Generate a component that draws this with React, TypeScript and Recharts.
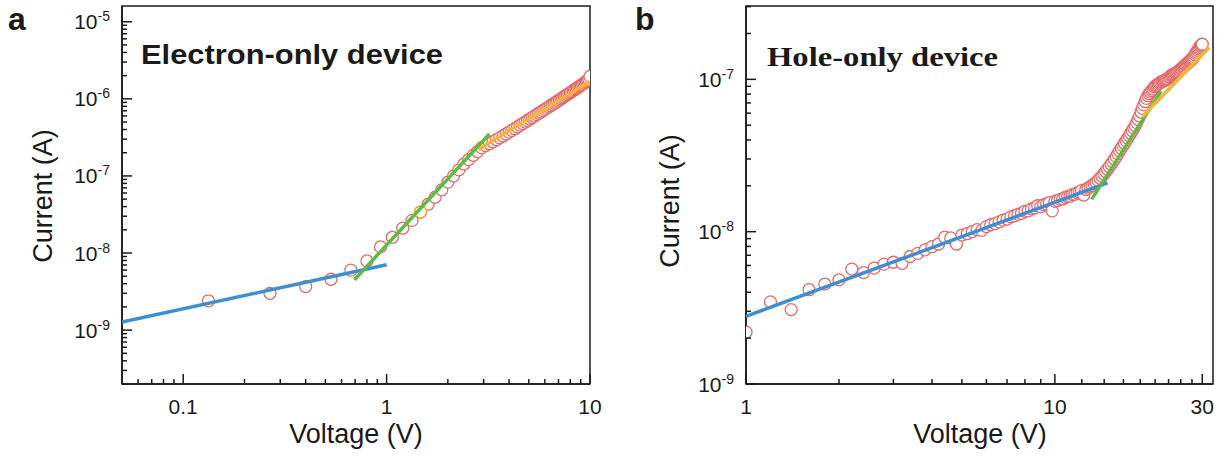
import { ScatterChart, Scatter, XAxis, YAxis, ReferenceArea } from "recharts";

const SANS = '"Liberation Sans", Arial, sans-serif';
const SERIF = '"Liberation Serif", "Times New Roman", serif';
const INK = "#1a1a1a";
const RED = "#e36a6a";
const BLUE = "#3d8fd1";
const GREEN = "#5dbb46";
const GOLD = "#f2b538";
const ORANGE = "#f0a020";

// ---- panel a: electron-only device ----
const elecV = [
  0.133, 0.267, 0.4, 0.533, 0.667, 0.8, 0.933, 1.067, 1.2, 1.333, 1.467, 1.6, 1.733, 1.867, 2.0,
  2.133, 2.267, 2.4, 2.533, 2.667, 2.8, 2.933, 3.067, 3.2, 3.333, 3.467, 3.6, 3.733, 3.867, 4.0,
  4.133, 4.267, 4.4, 4.533, 4.667, 4.8, 4.933, 5.067, 5.2, 5.333, 5.467, 5.6, 5.733, 5.867, 6.0,
  6.133, 6.267, 6.4, 6.533, 6.667, 6.8, 6.933, 7.067, 7.2, 7.333, 7.467, 7.6, 7.733, 7.867, 8.0,
  8.133, 8.267, 8.4, 8.533, 8.667, 8.8, 8.933, 9.067, 9.2, 9.333, 9.467, 9.6, 9.733, 9.867, 10.0,
];
// current in nA
const elecI = [
  2.4, 3.0, 3.67, 4.57, 6.0, 7.9, 12.0, 16.0, 21, 26.5, 34, 43, 53, 66, 83,
  100, 120, 143, 163, 185, 207, 233, 248, 262, 278, 295, 312, 330, 350, 370,
  390, 410, 432, 455, 478, 500, 524, 548, 572, 598, 624, 650, 676, 703, 730,
  758, 786, 815, 845, 875, 905, 935, 968, 1000, 1035, 1068, 1100, 1135, 1170, 1205,
  1240, 1278, 1315, 1352, 1390, 1430, 1470, 1510, 1550, 1595, 1640, 1690, 1740, 1800, 1950,
];
const elecMarkV = [1.467];
const elecMarkI = [34];
const elecBlueV = [0.05, 1.0];
const elecBlueI = [1.27e-9, 7.06e-9];
const elecGreenV = [0.695, 3.2];
const elecGreenI = [4.5e-9, 3.5e-7];
const elecGoldV = [2.83, 10];
const elecGoldI = [2.2e-7, 1.68e-6];

const elecXMajor = [0.1, 1, 10];
const elecXMinor = [0.06, 0.07, 0.08, 0.09, 0.2, 0.3, 0.4, 0.5, 0.6, 0.7, 0.8, 0.9, 2, 3, 4, 5, 6, 7, 8, 9];
const elecYMajor = [1e-9, 1e-8, 1e-7, 1e-6, 1e-5];
const elecYMinor = [
  2e-10, 3e-10, 4e-10, 5e-10, 6e-10, 7e-10, 8e-10, 9e-10,
  2e-9, 3e-9, 4e-9, 5e-9, 6e-9, 7e-9, 8e-9, 9e-9,
  2e-8, 3e-8, 4e-8, 5e-8, 6e-8, 7e-8, 8e-8, 9e-8,
  2e-7, 3e-7, 4e-7, 5e-7, 6e-7, 7e-7, 8e-7, 9e-7,
  2e-6, 3e-6, 4e-6, 5e-6, 6e-6, 7e-6, 8e-6, 9e-6,
];

// ---- panel b: hole-only device ----
const holeV = [
  1, 1.2, 1.4, 1.6, 1.8, 2, 2.2, 2.4, 2.6, 2.8, 3, 3.2, 3.4, 3.6, 3.8,
  4, 4.2, 4.4, 4.6, 4.8, 5, 5.2, 5.4, 5.6, 5.8, 6, 6.2, 6.4, 6.6, 6.8,
  7, 7.2, 7.4, 7.6, 7.8, 8, 8.2, 8.4, 8.6, 8.8, 9, 9.2, 9.4, 9.6, 9.8,
  10, 10.2, 10.4, 10.6, 10.8, 11, 11.2, 11.4, 11.6, 11.8, 12, 12.2, 12.4, 12.6, 12.8,
  13, 13.2, 13.4, 13.6, 13.8, 14, 14.2, 14.4, 14.6, 14.8, 15, 15.2, 15.4, 15.6, 15.8,
  16, 16.2, 16.4, 16.6, 16.8, 17, 17.2, 17.4, 17.6, 17.8, 18, 18.2, 18.4, 18.6, 18.8,
  19, 19.2, 19.4, 19.6, 19.8, 20, 20.2, 20.4, 20.6, 20.8, 21, 21.2, 21.4, 21.6, 21.8,
  22, 22.2, 22.4, 22.6, 22.8, 23, 23.2, 23.4, 23.6, 23.8, 24, 24.2, 24.4, 24.6, 24.8,
  25, 25.2, 25.4, 25.6, 25.8, 26, 26.2, 26.4, 26.6, 26.8, 27, 27.2, 27.4, 27.6, 27.8,
  28, 28.2, 28.4, 28.6, 28.8, 29, 29.2, 29.4, 29.6, 29.8, 30,
];
// current in nA
const holeI = [
  2.19, 3.46, 3.08, 4.16, 4.53, 4.83, 5.68, 5.39, 5.77, 6.12, 6.3, 6.2, 6.87, 7.2, 7.6,
  7.97, 8.3, 9.2, 9.1, 8.3, 9.5, 9.7, 10.0, 10.3, 10.2, 10.8, 11.1, 11.3, 11.6, 11.9,
  12.1, 12.5, 12.7, 13.0, 13.2, 13.6, 13.7, 14.1, 14.3, 14.8, 14.6, 15.0, 15.2, 15.5, 13.7,
  15.8, 16.0, 16.3, 16.4, 16.8, 17.0, 17.1, 17.5, 17.6, 18.0, 18.2, 18.6, 17.4, 18.9, 19.3,
  19.7, 20.1, 20.6, 21.1, 21.7, 22.4, 23.1, 23.9, 24.8, 25.7, 26.7, 27.7, 28.8, 30.0, 31.2,
  32.5, 34.0, 35.3, 36.7, 38.1, 39.6, 41.1, 42.7, 44.3, 46.0, 47.8, 49.8, 52.0, 54.5, 57.5,
  61.0, 64.5, 68.0, 71.5, 75.0, 78.0, 80.5, 82.5, 84.5, 86.5, 89.1, 90.5, 91.8, 93.0, 94.5,
  95.5, 96.5, 97.3, 98.2, 99.0, 100, 101, 103, 104, 106, 107, 108, 109, 110, 111,
  112, 114, 115, 117, 118, 120, 122, 124, 125, 127, 129, 131, 132, 134, 136,
  138, 141, 145, 148, 151, 155, 158, 162, 165, 168, 170,
];
const holeBlueV = [1, 14.8];
const holeBlueI = [2.78e-9, 2.09e-8];
const holeGreenV = [13.15, 22.06];
const holeGreenI = [1.63e-8, 8.35e-8];
const holeGoldV = [19.2, 31.6];
const holeGoldI = [5.7e-8, 1.62e-7];

const holeXMajor = [1, 10, 30];
const holeXMinor = [2, 3, 4, 5, 6, 7, 8, 9, 12.22, 14.44, 16.67, 18.89, 21.11, 23.33, 25.56, 27.78];
const holeYMajor = [1e-9, 1e-8, 1e-7];
const holeYMinor = [
  2e-9, 3e-9, 4e-9, 5e-9, 6e-9, 7e-9, 8e-9, 9e-9,
  2e-8, 3e-8, 4e-8, 5e-8, 6e-8, 7e-8, 8e-8, 9e-8,
  2e-7, 3e-7,
];

const pts = (vs: number[], is: number[], k = 1) => vs.map((v, n) => ({ v, i: is[n] * k }));

const makeXTick = (majors: number[]) => (p: any) => {
  const major = majors.includes(p.payload.value);
  return (
    <g>
      <line x1={p.x} x2={p.x} y1={p.y} y2={p.y - (major ? 10 : 5)} stroke={INK} strokeWidth={1.5} />
      {major && (
        <text x={p.x} y={p.y + 30} textAnchor="middle" fontSize={21} fontFamily={SANS} fill={INK}>
          {String(p.payload.value)}
        </text>
      )}
    </g>
  );
};

const makeYTick = (majors: number[]) => (p: any) => {
  const v = p.payload.value;
  const major = majors.some((m) => Math.abs(m - v) / m < 1e-6);
  const exp = Math.round(Math.log10(v));
  return (
    <g>
      <line x1={p.x} x2={p.x + (major ? 10 : 5)} y1={p.y} y2={p.y} stroke={INK} strokeWidth={1.5} />
      {major && (
        <text x={p.x - 12} y={p.y + 7.5} textAnchor="end" fontSize={21} fontFamily={SANS} fill={INK}>
          10
          <tspan fontSize={14} dy={-8}>{String(exp)}</tspan>
        </text>
      )}
    </g>
  );
};

const dot = (color: string) => (p: any) => (
  <circle cx={p.cx} cy={p.cy} r={6} fill="#fff" stroke={color} strokeWidth={1.3} />
);
const none = () => <g />;

type PanelProps = {
  width: number;
  yWidth: number;
  right: number;
  xDomain: [number, number];
  yDomain: [number, number];
  xMajor: number[];
  xMinor: number[];
  yMajor: number[];
  yMinor: number[];
  data: { v: number; i: number }[];
  mark?: { v: number; i: number }[];
  blue: { v: number; i: number }[];
  green: { v: number; i: number }[];
  gold: { v: number; i: number }[];
};

const Panel = (props: PanelProps) => (
  <ScatterChart width={props.width} height={458} margin={{ top: 6, right: props.right, bottom: 0, left: 0 }}>
    <XAxis
      type="number"
      dataKey="v"
      scale="log"
      domain={props.xDomain}
      allowDataOverflow
      ticks={[...props.xMinor, ...props.xMajor].sort((a, b) => a - b)}
      interval={0}
      height={74}
      tickSize={0}
      tickMargin={0}
      tickLine={false}
      axisLine={{ stroke: INK, strokeWidth: 1.5 }}
      tick={makeXTick(props.xMajor)}
    />
    <YAxis
      type="number"
      dataKey="i"
      scale="log"
      domain={props.yDomain}
      allowDataOverflow
      ticks={[...props.yMinor, ...props.yMajor].sort((a, b) => a - b)}
      interval={0}
      width={props.yWidth}
      tickSize={0}
      tickMargin={0}
      tickLine={false}
      axisLine={{ stroke: INK, strokeWidth: 1.5 }}
      tick={makeYTick(props.yMajor)}
    />
    <Scatter data={props.data} shape={dot(RED)} isAnimationActive={false} />
    {props.mark && <Scatter data={props.mark} shape={dot(ORANGE)} isAnimationActive={false} />}
    <Scatter data={props.blue} shape={none} line={{ stroke: BLUE, strokeWidth: 3.5 }} isAnimationActive={false} />
    <Scatter data={props.green} shape={none} line={{ stroke: GREEN, strokeWidth: 3.5 }} isAnimationActive={false} />
    <Scatter data={props.gold} shape={none} line={{ stroke: GOLD, strokeWidth: 3.5 }} isAnimationActive={false} />
    <ReferenceArea
      x1={props.xDomain[0]}
      x2={props.xDomain[1]}
      y1={props.yDomain[0]}
      y2={props.yDomain[1]}
      fill="none"
      stroke={INK}
      strokeWidth={1.5}
    />
  </ScatterChart>
);

export default function App() {
  return (
    <div style={{ position: "absolute", left: 0, top: 0, width: 1225, height: 458, background: "#fff" }}>
      <div style={{ position: "absolute", left: 0, top: 0 }}>
        <Panel
          width={610}
          yWidth={122}
          right={20}
          xDomain={[0.05, 10]}
          yDomain={[2e-10, 1.6e-5]}
          xMajor={elecXMajor}
          xMinor={elecXMinor}
          yMajor={elecYMajor}
          yMinor={elecYMinor}
          data={pts(elecV, elecI, 1e-9)}
          mark={pts(elecMarkV, elecMarkI, 1e-9)}
          blue={pts(elecBlueV, elecBlueI)}
          green={pts(elecGreenV, elecGreenI)}
          gold={pts(elecGoldV, elecGoldI)}
        />
      </div>
      <div style={{ position: "absolute", left: 610, top: 0 }}>
        <Panel
          width={615}
          yWidth={136}
          right={12}
          xDomain={[1, 32.5]}
          yDomain={[1e-9, 3.03e-7]}
          xMajor={holeXMajor}
          xMinor={holeXMinor}
          yMajor={holeYMajor}
          yMinor={holeYMinor}
          data={pts(holeV, holeI, 1e-9)}
          blue={pts(holeBlueV, holeBlueI)}
          green={pts(holeGreenV, holeGreenI)}
          gold={pts(holeGoldV, holeGoldI)}
        />
      </div>
      <svg width={1225} height={458} style={{ position: "absolute", left: 0, top: 0, pointerEvents: "none" }}>
        <text x={8} y={30} fontSize={32} fontWeight="bold" fontFamily={SANS} fill={INK}>a</text>
        <text x={635} y={30} fontSize={32} fontWeight="bold" fontFamily={SANS} fill={INK}>b</text>
        <text x={141} y={64} fontSize={28} fontWeight="bold" fontFamily={SANS} fill={INK} textLength={302} lengthAdjust="spacingAndGlyphs">
          Electron-only device
        </text>
        <text x={767} y={66} fontSize={28} fontWeight="bold" fontFamily={SERIF} fill={INK} textLength={231} lengthAdjust="spacingAndGlyphs">
          Hole-only device
        </text>
        <text x={356} y={443} textAnchor="middle" fontSize={27} fontFamily={SANS} fill={INK}>Voltage (V)</text>
        <text x={980} y={443} textAnchor="middle" fontSize={27} fontFamily={SANS} fill={INK}>Voltage (V)</text>
        <text transform="translate(52,196) rotate(-90)" textAnchor="middle" fontSize={27} fontFamily={SANS} fill={INK}>Current (A)</text>
        <text transform="translate(679,201) rotate(-90)" textAnchor="middle" fontSize={27} fontFamily={SANS} fill={INK}>Current (A)</text>
      </svg>
    </div>
  );
}
